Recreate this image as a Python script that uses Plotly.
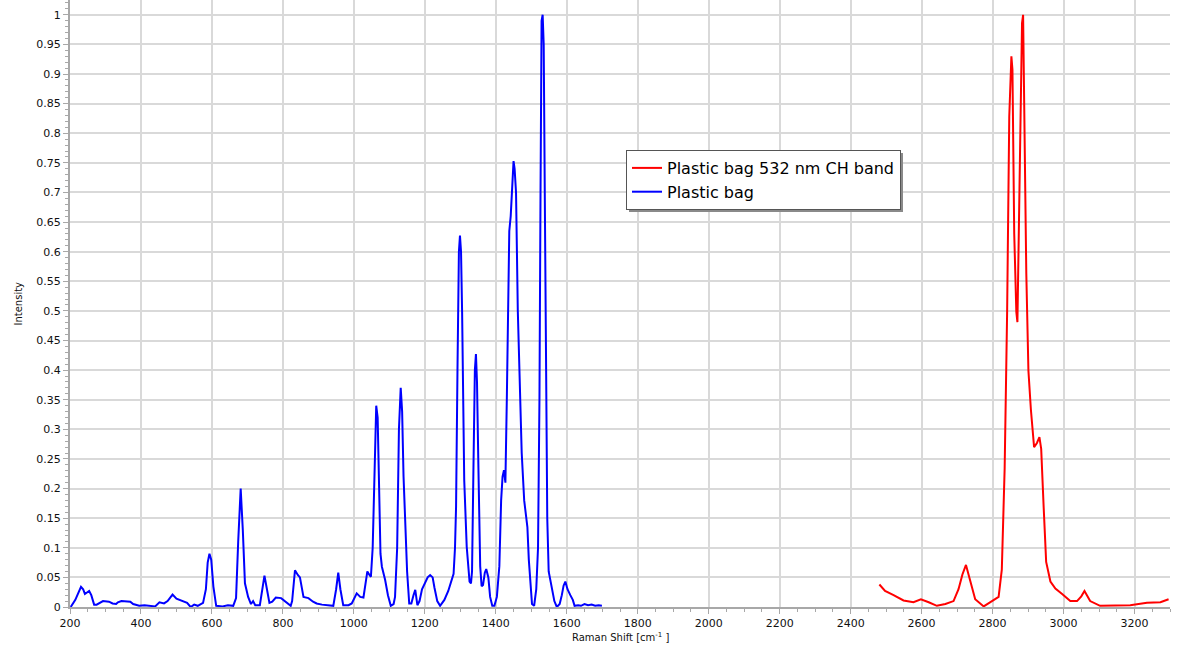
import plotly.graph_objects as go

# Blue: "Plastic bag"
blue_x = [202, 215, 231, 237, 242, 248, 254, 260, 268, 275, 280, 293, 310, 320, 330, 335, 345, 360, 370, 378,
          395, 410, 425, 440, 452, 465, 475, 489, 500, 520, 530, 540, 550, 560, 575, 583, 588, 593, 598, 604,
          612, 630, 645, 660, 668, 674, 681, 687, 693, 702, 710, 716, 722, 735, 740, 748, 755, 762, 770, 780,
          795, 805, 815, 822, 826, 834, 842, 848, 858, 872, 885, 895, 910, 923, 942, 950, 956, 962, 970, 985,
          994, 1008, 1018, 1027, 1033, 1038, 1043, 1048, 1053, 1058, 1063, 1067, 1071, 1075, 1079, 1088, 1096, 1104, 1112, 1116,
          1122, 1127, 1132, 1136, 1140, 1144, 1150, 1156, 1162, 1168, 1173, 1179, 1185, 1192, 1200, 1208, 1215, 1222, 1227, 1235,
          1243, 1255, 1266, 1275, 1281, 1285, 1288, 1292, 1296, 1299, 1302, 1305, 1311, 1318, 1326, 1330, 1333, 1337, 1341, 1344,
          1347, 1351, 1356, 1360, 1364, 1369, 1373, 1379, 1384, 1390, 1396, 1403, 1410, 1415, 1419, 1423, 1427, 1431, 1434, 1438,
          1442, 1446, 1450, 1453, 1457, 1462, 1467, 1473, 1480, 1484, 1489, 1493, 1497, 1502, 1508, 1514, 1519, 1523, 1526, 1529,
          1532, 1535, 1538, 1542, 1545, 1549, 1556, 1565, 1572, 1580, 1586, 1591, 1596, 1602, 1610, 1617, 1622, 1632, 1640, 1650,
          1660, 1670, 1680, 1690, 1699]
blue_y = [0.0, 0.012, 0.034, 0.03, 0.022, 0.025, 0.027, 0.02, 0.004, 0.004, 0.006, 0.01, 0.009, 0.006, 0.005, 0.008, 0.01, 0.01, 0.009, 0.005,
          0.002, 0.003, 0.002, 0.001, 0.008, 0.006, 0.01, 0.021, 0.014, 0.009, 0.007, 0.0, 0.004, 0.002, 0.007, 0.03, 0.075, 0.09, 0.08, 0.035,
          0.002, 0.001, 0.003, 0.002, 0.015, 0.11, 0.2, 0.13, 0.04, 0.017, 0.005, 0.01, 0.003, 0.003, 0.025, 0.053, 0.03, 0.007, 0.009, 0.016,
          0.015, 0.01, 0.006, 0.002, 0.01, 0.062, 0.054, 0.05, 0.017, 0.015, 0.009, 0.006, 0.004, 0.003, 0.002, 0.03, 0.058, 0.03, 0.003, 0.003,
          0.006, 0.023, 0.017, 0.016, 0.04, 0.06, 0.055, 0.051, 0.1, 0.25, 0.34, 0.32, 0.2, 0.09, 0.068, 0.046, 0.02, 0.002, 0.005, 0.017,
          0.1, 0.3, 0.37, 0.33, 0.22, 0.147, 0.06, 0.006, 0.006, 0.02, 0.029, 0.003, 0.01, 0.03, 0.04, 0.05, 0.054, 0.05, 0.033, 0.01,
          0.002, 0.012, 0.027, 0.045, 0.056, 0.1, 0.169, 0.4, 0.6, 0.627, 0.6, 0.5, 0.214, 0.102, 0.043, 0.04, 0.06, 0.235, 0.4, 0.427,
          0.38, 0.235, 0.069, 0.035, 0.037, 0.058, 0.064, 0.05, 0.017, 0.002, 0.002, 0.017, 0.069, 0.18, 0.22, 0.231, 0.21, 0.35, 0.45, 0.635,
          0.66, 0.72, 0.753, 0.74, 0.7, 0.5, 0.38, 0.26, 0.18, 0.16, 0.135, 0.08, 0.04, 0.005, 0.002, 0.03, 0.1, 0.35, 0.7, 0.99,
          1.0, 0.95, 0.7, 0.45, 0.15, 0.06, 0.035, 0.01, 0.0, 0.005, 0.02, 0.036, 0.043, 0.03, 0.02, 0.012, 0.002, 0.003, 0.002, 0.005,
          0.003, 0.004, 0.002, 0.003, 0.002]

# Red: "Plastic bag 532 nm CH band"
red_x = [2481, 2497, 2521, 2549, 2577, 2598, 2620, 2643, 2667, 2690, 2704, 2715, 2725, 2737, 2751, 2775, 2798, 2817, 2826, 2834,
         2841, 2847, 2853, 2856, 2861, 2867, 2870, 2875, 2880, 2883, 2886, 2890, 2895, 2901, 2908, 2917, 2925, 2932, 2937, 2944,
         2951, 2963, 2977, 2996, 3019, 3038, 3050, 3059, 3075, 3103, 3141, 3188, 3235, 3273, 3296]
red_y = [0.038, 0.027, 0.02, 0.011, 0.008, 0.013, 0.008, 0.002, 0.005, 0.01, 0.03, 0.055, 0.071, 0.043, 0.013, 0.001, 0.01, 0.017, 0.063, 0.234,
         0.498, 0.828, 0.93, 0.907, 0.63, 0.498, 0.481, 0.663, 0.893, 0.986, 1.0, 0.828, 0.564, 0.399, 0.333, 0.27, 0.277, 0.287, 0.267, 0.168,
         0.076, 0.043, 0.031, 0.022, 0.01, 0.01, 0.018, 0.027, 0.01, 0.002, 0.002, 0.003, 0.007, 0.008, 0.013]

x_ticks = list(range(200, 3400, 200))
y_ticks = [round(i * 0.05, 2) for i in range(21)]
y_tick_text = ["0"] + [f"{v:g}" for v in y_ticks[1:]]

fig = go.Figure()
fig.add_trace(go.Scatter(x=red_x, y=red_y, mode="lines", name="Plastic bag 532 nm CH band",
                         line=dict(color="#ff0000", width=2)))
fig.add_trace(go.Scatter(x=blue_x, y=blue_y, mode="lines", name="Plastic bag",
                         line=dict(color="#0000ff", width=2)))

# legend box geometry in pixels (plot area: x 70..1170, y 0..607)
PW, PH = 1100.0, 607.0
leg_left, leg_top = 626, 150
leg_w, leg_h = 274, 59

axis_col = "#a8a8a8"
fig.update_layout(
    width=1177, height=651,
    margin=dict(l=70, r=7, t=0, b=44),
    paper_bgcolor="white", plot_bgcolor="white",
    font=dict(family="DejaVu Sans, Verdana, sans-serif", size=11, color="#111111"),
    showlegend=True,
    legend=dict(x=(leg_left - 70) / PW, y=(PH - leg_top) / PH, xanchor="left", yanchor="top",
                bgcolor="white", bordercolor="#555555", borderwidth=1,
                font=dict(size=16, color="#000000"), tracegroupgap=0),
    xaxis=dict(range=[200, 3300], tickvals=x_ticks, showgrid=True, gridcolor="#d9d9d9", gridwidth=2,
               zeroline=False, showline=True, linecolor=axis_col, linewidth=2,
               ticks="outside", ticklen=5, tickcolor=axis_col, tickwidth=1,
               minor=dict(dtick=50, ticks="outside", ticklen=3, tickcolor=axis_col, showgrid=False)),
    yaxis=dict(range=[0, 1.025], tickvals=y_ticks, ticktext=y_tick_text, showgrid=True, gridcolor="#d9d9d9", gridwidth=2,
               zeroline=False, showline=True, linecolor=axis_col, linewidth=2,
               ticks="outside", ticklen=5, tickcolor=axis_col, tickwidth=1,
               minor=dict(dtick=0.01, ticks="outside", ticklen=3, tickcolor=axis_col, showgrid=False)),
    annotations=[
        dict(text="Raman Shift [cm<sup>-1</sup> ]", xref="paper", yref="paper", x=0.5, y=0,
             yshift=-30, xanchor="center", yanchor="middle", showarrow=False, font=dict(size=10)),
        dict(text="Intensity", xref="paper", yref="paper", x=0, y=0.5, xshift=-52,
             xanchor="center", yanchor="middle", textangle=-90, showarrow=False, font=dict(size=10)),
    ],
    shapes=[
        dict(type="rect", xref="paper", yref="paper",
             x0=(leg_left + 3 - 70) / PW, x1=(leg_left + leg_w + 3 - 70) / PW,
             y0=(PH - leg_top - 3) / PH, y1=(PH - leg_top - leg_h - 3) / PH,
             fillcolor="#8a8a8a", line=dict(width=0), layer="above"),
    ],
)

fig.write_html("out.html", config={"displayModeBar": False},
               post_script="document.body.style.margin='0';")
